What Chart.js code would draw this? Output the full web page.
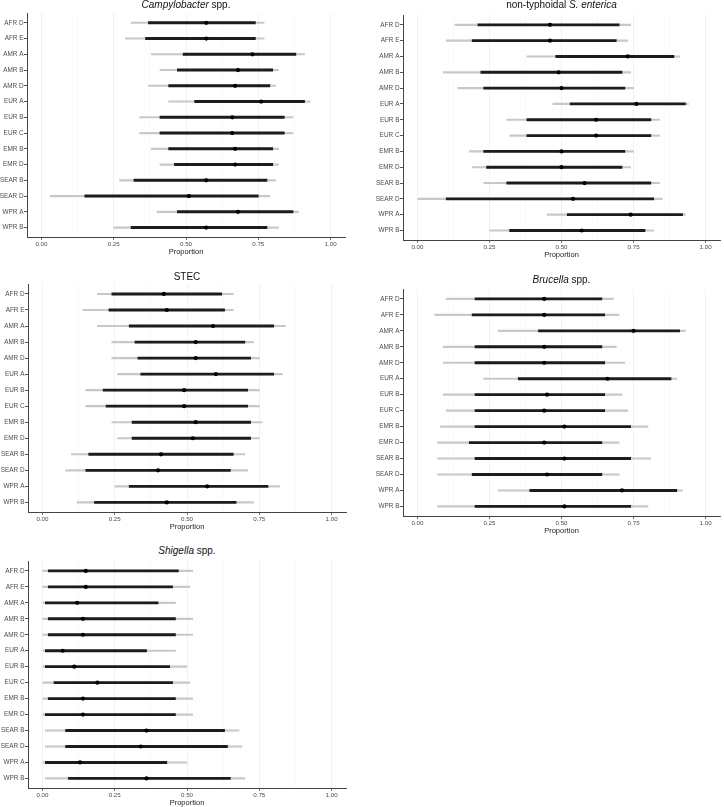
<!DOCTYPE html>
<html>
<head>
<meta charset="utf-8">
<script src="https://cdn.jsdelivr.net/npm/chart.js@4.4.1/dist/chart.umd.min.js"></script>
<style>
  body { margin: 0; background: #fff; }
  #wrap { position: relative; width: 724px; height: 807px; background: #fff; }
  #wrap canvas { position: absolute; }
  .ttl { position: absolute; text-align: center; font-family: "Liberation Sans", Arial, sans-serif;
         font-size: 10px; line-height: 12px; color: #111; white-space: nowrap; }
</style>
</head>
<body>
<div id="wrap"></div>
<script>
    // data
    const regions = ['AFR D', 'AFR E', 'AMR A', 'AMR B', 'AMR D', 'EUR A', 'EUR B',
                     'EUR C', 'EMR B', 'EMR D', 'SEAR B', 'SEAR D', 'WPR A', 'WPR B'];
    const xTicks = [0, 0.25, 0.5, 0.75, 1];

    const campyEst   = [0.57, 0.57, 0.73, 0.68, 0.67, 0.76, 0.66, 0.66, 0.67, 0.67, 0.57, 0.51, 0.68, 0.57];
    const campyInLo  = [0.37, 0.36, 0.49, 0.47, 0.44, 0.53, 0.41, 0.41, 0.44, 0.46, 0.32, 0.15, 0.47, 0.31];
    const campyInHi  = [0.74, 0.74, 0.88, 0.80, 0.79, 0.91, 0.84, 0.84, 0.80, 0.80, 0.78, 0.75, 0.87, 0.78];
    const campyOutLo = [0.31, 0.29, 0.38, 0.41, 0.37, 0.44, 0.34, 0.34, 0.38, 0.41, 0.27, 0.03, 0.40, 0.25];
    const campyOutHi = [0.77, 0.77, 0.91, 0.82, 0.81, 0.93, 0.87, 0.87, 0.82, 0.82, 0.81, 0.79, 0.89, 0.82];

    const salmEst   = [0.46, 0.46, 0.73, 0.49, 0.50, 0.76, 0.62, 0.62, 0.50, 0.50, 0.58, 0.54, 0.74, 0.57];
    const salmInLo  = [0.21, 0.19, 0.48, 0.22, 0.23, 0.53, 0.38, 0.38, 0.23, 0.24, 0.31, 0.10, 0.52, 0.32];
    const salmInHi  = [0.70, 0.69, 0.89, 0.71, 0.72, 0.93, 0.81, 0.81, 0.72, 0.71, 0.81, 0.82, 0.92, 0.79];
    const salmOutLo = [0.13, 0.10, 0.38, 0.09, 0.14, 0.47, 0.31, 0.32, 0.18, 0.19, 0.23, 0.00, 0.45, 0.25];
    const salmOutHi = [0.74, 0.73, 0.91, 0.74, 0.75, 0.94, 0.84, 0.84, 0.75, 0.74, 0.84, 0.85, 0.93, 0.82];

    const stecEst   = [0.42, 0.43, 0.59, 0.53, 0.53, 0.60, 0.49, 0.49, 0.53, 0.52, 0.41, 0.40, 0.57, 0.43];
    const stecInLo  = [0.24, 0.23, 0.30, 0.32, 0.33, 0.34, 0.21, 0.22, 0.31, 0.31, 0.16, 0.15, 0.30, 0.18];
    const stecInHi  = [0.62, 0.63, 0.80, 0.70, 0.72, 0.80, 0.71, 0.71, 0.72, 0.72, 0.66, 0.65, 0.78, 0.67];
    const stecOutLo = [0.19, 0.14, 0.19, 0.24, 0.24, 0.26, 0.15, 0.15, 0.24, 0.26, 0.10, 0.08, 0.25, 0.12];
    const stecOutHi = [0.66, 0.66, 0.84, 0.73, 0.75, 0.83, 0.75, 0.75, 0.76, 0.75, 0.70, 0.71, 0.82, 0.73];

    const brucEst   = [0.44, 0.44, 0.75, 0.44, 0.44, 0.66, 0.45, 0.44, 0.51, 0.44, 0.51, 0.45, 0.71, 0.51];
    const brucInLo  = [0.20, 0.19, 0.42, 0.20, 0.20, 0.35, 0.20, 0.20, 0.20, 0.18, 0.20, 0.19, 0.39, 0.20];
    const brucInHi  = [0.64, 0.65, 0.91, 0.64, 0.65, 0.88, 0.65, 0.65, 0.74, 0.64, 0.74, 0.64, 0.90, 0.74];
    const brucOutLo = [0.10, 0.06, 0.28, 0.09, 0.09, 0.23, 0.09, 0.10, 0.08, 0.07, 0.07, 0.07, 0.28, 0.07];
    const brucOutHi = [0.68, 0.70, 0.93, 0.69, 0.72, 0.90, 0.71, 0.73, 0.80, 0.70, 0.81, 0.70, 0.92, 0.80];

    const shigEst   = [0.15, 0.15, 0.12, 0.14, 0.14, 0.07, 0.11, 0.19, 0.14, 0.14, 0.36, 0.34, 0.13, 0.36];
    const shigInLo  = [0.02, 0.02, 0.01, 0.02, 0.02, 0.01, 0.01, 0.04, 0.02, 0.01, 0.08, 0.08, 0.01, 0.09];
    const shigInHi  = [0.47, 0.45, 0.40, 0.46, 0.46, 0.36, 0.44, 0.45, 0.46, 0.46, 0.63, 0.64, 0.43, 0.65];
    const shigOutLo = [0.00, 0.00, 0.00, 0.00, 0.00, 0.00, 0.00, 0.00, 0.00, 0.00, 0.01, 0.01, 0.00, 0.01];
    const shigOutHi = [0.52, 0.51, 0.46, 0.52, 0.52, 0.46, 0.50, 0.51, 0.52, 0.52, 0.68, 0.69, 0.50, 0.70];

    // panel layout
    const panels = [
      { title: '<i>Campylobacter</i> spp.', est: campyEst, inLo: campyInLo, inHi: campyInHi, outLo: campyOutLo, outHi: campyOutHi,
        left: 0, width: 350, plotTop: 11, plotBottom: 237, yWidth: 27, padRight: 5, titleY: 5 },
      { title: 'non-typhoidal <i>S. enterica</i>', est: salmEst, inLo: salmInLo, inHi: salmInHi, outLo: salmOutLo, outHi: salmOutHi,
        left: 362, width: 362, plotTop: 13, plotBottom: 240, yWidth: 41, padRight: 0, titleY: 5 },
      { title: 'STEC', est: stecEst, inLo: stecInLo, inHi: stecInHi, outLo: stecOutLo, outHi: stecOutHi,
        left: 0, width: 350, plotTop: 282, plotBottom: 512, yWidth: 28, padRight: 2, titleY: 277 },
      { title: '<i>Brucella</i> spp.', est: brucEst, inLo: brucInLo, inHi: brucInHi, outLo: brucOutLo, outHi: brucOutHi,
        left: 362, width: 362, plotTop: 287, plotBottom: 516, yWidth: 41, padRight: 0, titleY: 280 },
      { title: '<i>Shigella</i> spp.', est: shigEst, inLo: shigInLo, inHi: shigInHi, outLo: shigOutLo, outHi: shigOutHi,
        left: 0, width: 350, plotTop: 559, plotBottom: 788, yWidth: 28, padRight: 2, titleY: 551 }
    ];

    const wrap = document.getElementById('wrap');
    Chart.defaults.font.family = '"Liberation Sans", Arial, sans-serif';

    function isMajor(v) {
      return xTicks.some(t => Math.abs(t - v) < 1e-9);
    }

    function makePanel(p) {
      const canvas = document.createElement('canvas');
      const top = p.plotTop - 2;
      const h = Math.round(p.plotBottom - top + 19);
      canvas.width = p.width;
      canvas.height = h;
      canvas.style.left = p.left + 'px';
      canvas.style.top = top + 'px';
      canvas.style.width = p.width + 'px';
      canvas.style.height = h + 'px';
      wrap.appendChild(canvas);

      const rows = regions.map((r, i) => i);

      const config = {
        type: 'bar',
        data: {
          datasets: [{
            type: 'scatter',
            data: rows.map(i => ({ x: p.est[i], y: i })),
            pointRadius: 2.1,
            pointBackgroundColor: '#000',
            pointBorderWidth: 0,
            order: 0
          }, {
            data: rows.map(i => ({ x: [p.inLo[i], p.inHi[i]], y: i })),
            backgroundColor: '#1c1c1c',
            barThickness: 2.2,
            grouped: false,
            order: 1
          }, {
            data: rows.map(i => ({ x: [p.outLo[i], p.outHi[i]], y: i })),
            backgroundColor: '#c8c8c8',
            barThickness: 1.5,
            grouped: false,
            order: 2
          }]
        },
        options: {
          indexAxis: 'y',
          responsive: false,
          animation: false,
          events: [],
          layout: { padding: { top: 2, right: p.padRight, bottom: 0, left: 0 } },
          plugins: { legend: { display: false }, tooltip: { enabled: false } },
          scales: {
            x: {
              type: 'linear',
              min: -0.05,
              max: 1.05,
              offset: false,
              afterFit: s => { s.height = 19; },
              ticks: {
                stepSize: 0.125,
                includeBounds: false,
                autoSkip: false,
                maxRotation: 0,
                padding: 1,
                font: { size: 6.2 },
                color: '#4d4d4d',
                callback: v => isMajor(v) ? v.toFixed(2) : ''
              },
              grid: {
                offset: false,
                color: ctx => ctx.tick && isMajor(ctx.tick.value) ? '#ededed' : '#f7f7f7',
                tickColor: ctx => ctx.tick && isMajor(ctx.tick.value) ? '#555' : 'rgba(0,0,0,0)',
                tickLength: 3,
                lineWidth: 0.8
              },
              border: { display: true, color: '#444', width: 1 },
              title: { display: true, text: 'Proportion', color: '#222', font: { size: 7.5 }, padding: { top: 0, bottom: 0 } }
            },
            y: {
              type: 'linear',
              reverse: true,
              min: -0.6,
              max: 13.6,
              offset: false,
              afterFit: s => { s.width = p.yWidth; },
              ticks: {
                stepSize: 1,
                includeBounds: false,
                autoSkip: false,
                padding: 0.5,
                font: { size: 6.4 },
                color: '#4d4d4d',
                callback: v => regions[v]
              },
              grid: { offset: false, drawOnChartArea: false, drawTicks: true, tickLength: 3, tickColor: '#555' },
              border: { display: true, color: '#444', width: 1 }
            }
          }
        }
      };

      const chart = new Chart(canvas, config);

      // panel title over the plot area
      const area = chart.chartArea;
      const t = document.createElement('div');
      t.className = 'ttl';
      t.innerHTML = p.title;
      t.style.left = (p.left + area.left) + 'px';
      t.style.width = (area.right - area.left) + 'px';
      t.style.top = (p.titleY - 6) + 'px';
      wrap.appendChild(t);
    }

    panels.forEach(makePanel);
</script>
</body>
</html>
